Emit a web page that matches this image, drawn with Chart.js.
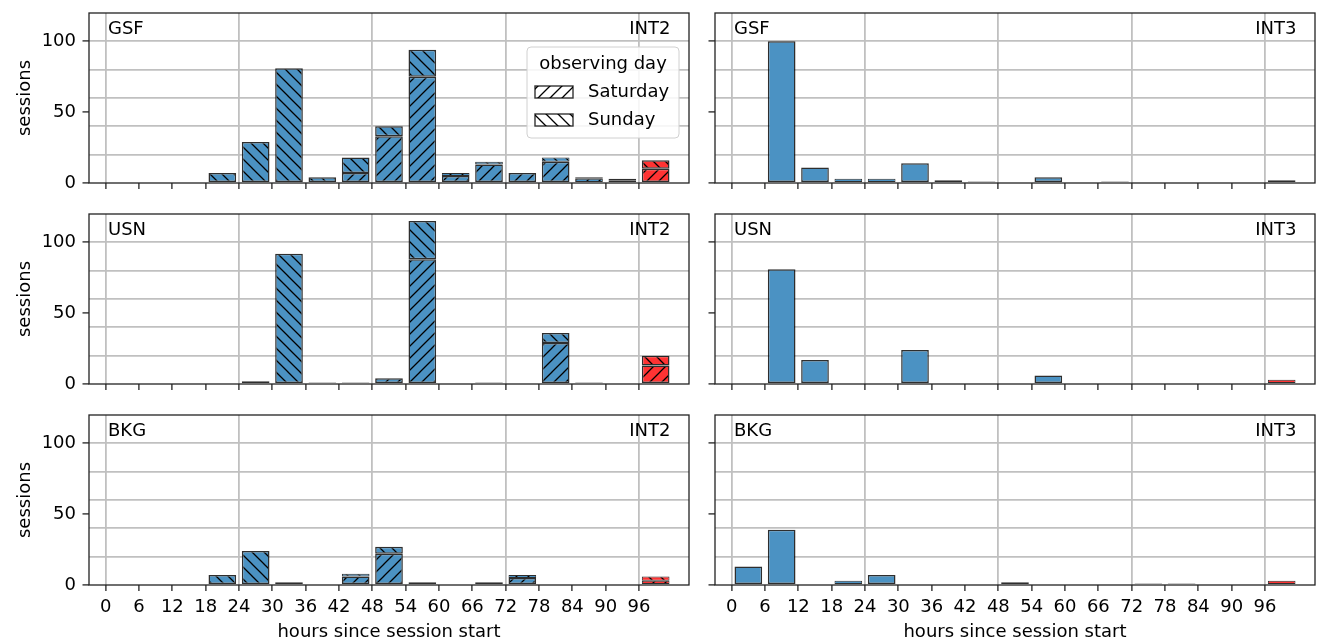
<!DOCTYPE html>
<html><head><meta charset="utf-8">
<script src="https://cdn.jsdelivr.net/npm/chart.js@4/dist/chart.umd.min.js"></script>
<style>
html,body{margin:0;padding:0;background:#fff;width:1320px;height:641px;overflow:hidden}
canvas{position:absolute;left:0;top:0}
</style></head><body>
<script>
// ---- data ----
const binStart = [0,6,12,18,24,30,36,42,48,54,60,66,72,78,84,90,96];
const binWidth = 6;
const redBinStart = 96;
const xTickValues = [0,6,12,18,24,30,36,42,48,54,60,66,72,78,84,90,96];
const xGridValues = [0,24,48,72,96];
const yTickLabels = [0,50,100];
const yGridValues = [20,40,60,80,100];
const dayLabels = ['Saturday','Sunday'];
const legendTitle = 'observing day';
const xTitle = 'hours since session start';
const yTitle = 'sessions';

const gsfInt2Saturday = [0,0,0,0,0,0,0,7,33,75,5,13,7,15,3,2,10];
const gsfInt2Sunday   = [0,0,0,7,29,81,4,11,7,19,2,2,0,3,1,1,6];
const gsfInt3         = [0,100,11,3,3,14,2,1,0,4,0,1,0,0,0,0,2];
const usnInt2Saturday = [0,0,0,0,2,0,0,1,4,88,0,1,0,29,1,0,13];
const usnInt2Sunday   = [0,0,0,0,0,92,1,0,0,27,0,0,0,7,0,0,7];
const usnInt3         = [0,81,17,0,0,24,0,0,0,6,0,0,0,0,0,0,3];
const bkgInt2Saturday = [0,0,0,0,0,0,0,6,22,2,0,2,5,0,0,0,3];
const bkgInt2Sunday   = [0,0,0,7,24,2,0,2,5,0,0,0,2,0,0,0,3];
const bkgInt3         = [13,39,0,3,7,0,0,0,2,0,0,0,1,1,0,0,3];

const panels = [
  {station:'GSF', session:'INT2', row:0, col:0, series:[gsfInt2Saturday, gsfInt2Sunday], legend:true},
  {station:'GSF', session:'INT3', row:0, col:1, series:[gsfInt3]},
  {station:'USN', session:'INT2', row:1, col:0, series:[usnInt2Saturday, usnInt2Sunday]},
  {station:'USN', session:'INT3', row:1, col:1, series:[usnInt3]},
  {station:'BKG', session:'INT2', row:2, col:0, series:[bkgInt2Saturday, bkgInt2Sunday]},
  {station:'BKG', session:'INT3', row:2, col:1, series:[bkgInt3]}
];

// ---- layout / style ----
const W = 1320, H = 641;
const colLeft = [89, 715], colRight = [689, 1315];
const rowTop = [13, 214, 415], rowBottom = [183, 384, 585];
const FONT = '"DejaVu Sans", sans-serif';
const FS = 18;
const blue = '#4b92c3', red = '#ff3333';
const gridColor = '#c0c0c0';
const edgeColor = 'rgba(0,0,0,0.82)';

Chart.defaults.font.family = FONT;
Chart.defaults.font.size = FS;
Chart.defaults.color = '#000';

const P = 12;
function makePattern(fill, dir) {
  const c = document.createElement('canvas'); c.width = P; c.height = P;
  const g = c.getContext('2d');
  g.fillStyle = fill; g.fillRect(0,0,P,P);
  if (dir) {
    g.strokeStyle = '#000'; g.lineWidth = 1.3; g.beginPath();
    for (let m = -1; m <= 1; m++) {
      if (dir === '/') { g.moveTo(m*P - 1, P + 1); g.lineTo(m*P + P + 1, -1); }
      else { g.moveTo(m*P - 1, -1); g.lineTo(m*P + P + 1, P + 1); }
    }
    g.stroke();
  }
  return g.createPattern(c, 'repeat');
}
const hatchDirs = ['/', '\\'];
const pat = {};
['/', '\\', null].forEach(d => {
  pat['blue' + d] = makePattern(blue, d);
  pat['red' + d] = makePattern(red, d);
  pat['white' + d] = makePattern('#ffffff', d);
});

const panelDecor = {
  id: 'panelDecor',
  afterDatasetsDraw(chart, args, opts) {
    const {ctx, chartArea: a} = chart;
    ctx.save();
    ctx.strokeStyle = '#222'; ctx.lineWidth = 1.3;
    ctx.strokeRect(a.left, a.top, a.right - a.left, a.bottom - a.top);
    ctx.font = FS + 'px ' + FONT; ctx.fillStyle = '#000';
    ctx.textBaseline = 'alphabetic';
    ctx.textAlign = 'left'; ctx.fillText(opts.station, a.left + 19, a.top + 21);
    ctx.textAlign = 'right'; ctx.fillText(opts.session, a.right - 18.5, a.top + 21);
    if (opts.legend) {
      const bx = a.right - 162, by = a.top + 34, bw = 152, bh = 91;
      ctx.beginPath();
      ctx.roundRect(bx, by, bw, bh, 4);
      ctx.fillStyle = 'rgba(255,255,255,0.85)'; ctx.fill();
      ctx.strokeStyle = '#d0d0d0'; ctx.lineWidth = 1; ctx.stroke();
      ctx.fillStyle = '#000';
      ctx.textAlign = 'center'; ctx.textBaseline = 'middle';
      ctx.fillText(legendTitle, bx + bw/2, by + 17);
      chart.data.datasets.forEach((ds, i) => {
        const cy = by + 45 + 28*i;
        ctx.fillStyle = pat['white' + ds.hatch];
        ctx.fillRect(bx + 8, cy - 6, 38, 12);
        ctx.strokeStyle = 'rgba(0,0,0,0.8)'; ctx.lineWidth = 1.4;
        ctx.strokeRect(bx + 8, cy - 6, 38, 12);
        ctx.fillStyle = '#000'; ctx.textAlign = 'left';
        ctx.fillText(ds.label, bx + 61, cy);
      });
    }
    ctx.restore();
  }
};

const yTickValues = Array.from(new Set([0, ...yGridValues, ...yTickLabels, 120])).sort((a,b)=>a-b);
function zeroPad(s) { s.paddingTop = 0; s.paddingBottom = 0; s.paddingLeft = 0; s.paddingRight = 0; }

panels.forEach(p => {
  const cv = document.createElement('canvas');
  cv.width = W; cv.height = H;
  document.body.appendChild(cv);
  const L = colLeft[p.col], R = colRight[p.col], T = rowTop[p.row], B = rowBottom[p.row];
  const isLeft = p.col === 0, isBottom = p.row === 2;
  const Wy = isLeft ? L : 30;
  const Hx = isBottom ? H - B : 10;
  const datasets = p.series.map((vals, i) => {
    const hatch = p.series.length > 1 ? hatchDirs[i] : null;
    return {
      label: p.series.length > 1 ? dayLabels[i] : 'all',
      hatch: hatch,
      data: binStart.map((s, k) => ({x: s + binWidth/2, y: vals[k]})),
      backgroundColor: c => (binStart[c.dataIndex] === redBinStart ? pat['red' + hatch] : pat['blue' + hatch]),
      borderColor: edgeColor,
      borderWidth: c => (c.raw && c.raw.y <= 3 ? 1 : 1.5),
      borderSkipped: false,
      barPercentage: 0.83,
      categoryPercentage: 1.0,
      stack: 's'
    };
  });
  new Chart(cv, {
    type: 'bar',
    data: {datasets},
    options: {
      responsive: false, animation: false, devicePixelRatio: 1,
      layout: {padding: {left: L - Wy, top: T, right: W - R, bottom: H - B - Hx}},
      plugins: {legend: {display: false}, tooltip: {enabled: false},
        panelDecor: {station: p.station, session: p.session, legend: !!p.legend}},
      scales: {
        x: {
          type: 'linear', min: -3, max: 105, offset: false, stacked: true, bounds: 'data',
          afterBuildTicks: s => { s.ticks = xTickValues.map(v => ({value: v})); },
          afterFit: s => { s.height = Hx; zeroPad(s); },
          border: {display: false},
          grid: {
            offset: false,
            color: c => (c.tick && xGridValues.includes(c.tick.value)) ? gridColor : 'rgba(0,0,0,0)',
            lineWidth: 1.8, tickColor: '#222', tickWidth: 1.3, tickLength: 6, drawTicks: true
          },
          ticks: {padding: 6, autoSkip: false, maxRotation: 0, minRotation: 0,
            callback: v => isBottom ? String(v) : ''},
          title: {display: isBottom, text: xTitle, padding: {top: 0, bottom: -2}}
        },
        y: {
          type: 'linear', min: 0, max: 120, stacked: true, bounds: 'data',
          afterBuildTicks: s => { s.ticks = yTickValues.map(v => ({value: v})); },
          afterFit: s => { s.width = Wy; zeroPad(s); },
          border: {display: false},
          grid: {
            offset: false,
            color: c => (c.tick && yGridValues.includes(c.tick.value)) ? gridColor : 'rgba(0,0,0,0)',
            tickColor: c => (c.tick && yTickLabels.includes(c.tick.value)) ? '#222' : 'rgba(0,0,0,0)',
            lineWidth: 1.8, tickWidth: 1.3, tickLength: 6.5, drawTicks: true
          },
          ticks: {padding: 6.5, autoSkip: false,
            callback: v => (isLeft && yTickLabels.includes(v)) ? String(v) : ''},
          title: {display: isLeft, text: yTitle, padding: {top: 14.5, bottom: 0}}
        }
      }
    },
    plugins: [panelDecor]
  });
});
</script>
</body></html>
